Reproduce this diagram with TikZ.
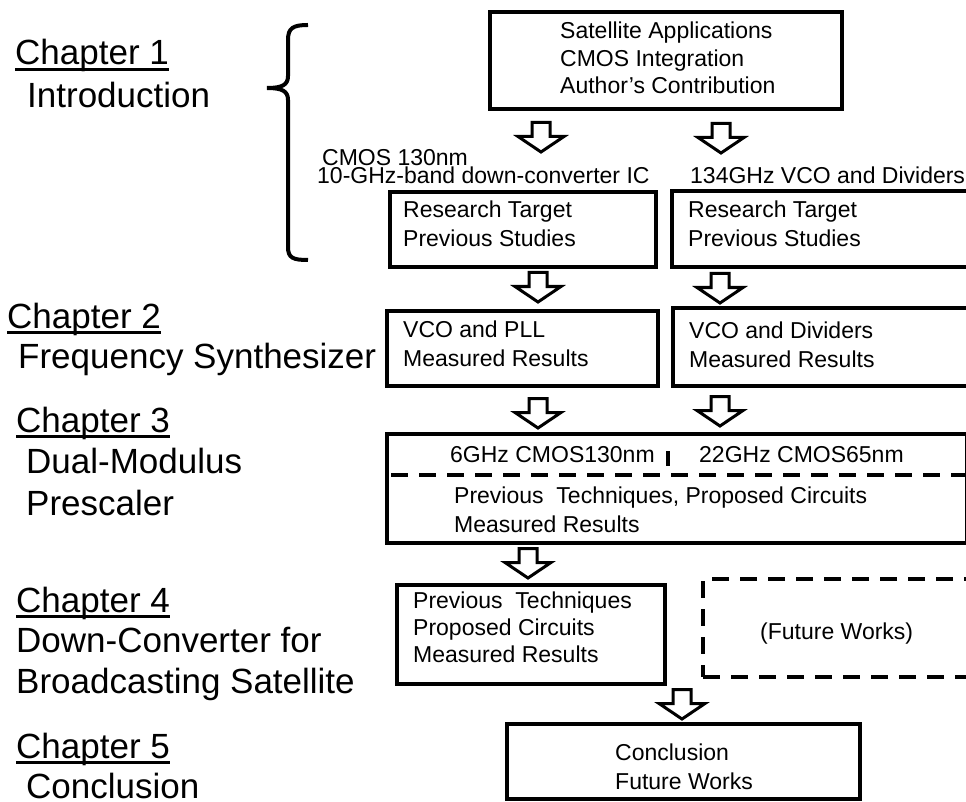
\documentclass[tikz,border=0pt]{standalone}
\usepackage{fontspec}
\setmainfont{Liberation Sans}
\begin{document}
\begin{tikzpicture}[x=1pt, y=-1pt,
  box/.style={draw, line width=4pt, rectangle, outer sep=0pt, inner sep=0pt, anchor=north west},
  dashbox/.style={box, dash pattern=on 17pt off 11pt},
  dashline/.style={line width=4pt, dash pattern=on 17pt off 11pt},
  % multi-line texts are placed by the baseline of their last line
  txt/.style={anchor=base west, inner sep=0pt, align=left, font=\fontsize{23}{28.5}\selectfont},
  chap/.style={anchor=base west, inner sep=0pt, align=left, font=\fontsize{35}{41.5}\selectfont},
  uline/.style={line width=2.6pt},
  barrow/.pic={\draw[line width=3pt, fill=white]
      (-9,0) -- (9,0) -- (9,14) -- (23,14) -- (0,29.5) -- (-23,14) -- (-9,14) -- cycle;}
]
\useasboundingbox (0,0) rectangle (966,802);
\clip (0,0) rectangle (966,802);

% ---- chapter titles on the left ----
\node[chap] (ch1) at (15,65) {Chapter 1};
\node[chap] (ch1d) at (27,108) {Introduction};
\node[chap] (ch2) at (7,328) {Chapter 2};
\node[chap] (ch2d) at (18,368) {Frequency Synthesizer};
\node[chap] (ch3) at (16,432) {Chapter 3};
\node[chap, font=\fontsize{35}{42}\selectfont] (ch3d) at (26,515) {Dual-Modulus\\Prescaler};
\node[chap] (ch4) at (16,612) {Chapter 4};
\node[chap, font=\fontsize{35}{41}\selectfont] (ch4d) at (16,693) {Down-Converter for\\Broadcasting Satellite};
\node[chap] (ch5) at (16,758) {Chapter 5};
\node[chap] (ch5d) at (26,798) {Conclusion};
\foreach \c in {ch1,ch2,ch3,ch4,ch5}
  \draw[uline] ([yshift=-4.5pt]\c.base west) -- ([yshift=-4.5pt]\c.base east);

% ---- brace grouping the introduction part ----
\draw[line width=4pt]
  (308,25) .. controls (293,25) and (288,28) .. (288,40) -- (288,76)
  .. controls (288,85) and (282,88) .. (267,88)
  .. controls (282,88) and (288,91) .. (288,100) -- (288,247)
  .. controls (288,258) and (293,260) .. (308,260);

% ---- boxes ----
\node[box, minimum width=352pt, minimum height=97pt] (intro) at (490,12) {};
\node[box, minimum width=266pt, minimum height=75pt] (rtL) at (390,192) {};
\node[box, minimum width=330pt, minimum height=76pt] (rtR) at (672,191) {};
\node[box, minimum width=271pt, minimum height=75pt] (pll) at (387,311) {};
\node[box, minimum width=330pt, minimum height=78pt] (div) at (673,308) {};
\node[box, minimum width=580pt, minimum height=109pt] (pre) at (387,434) {};
\node[box, minimum width=268pt, minimum height=99pt] (dc) at (397,585) {};
\node[dashbox, minimum width=300pt, minimum height=98pt] (fut) at (703,579) {};
\node[box, minimum width=353pt, minimum height=75pt] (concl) at (507,724) {};

% ---- texts ----
\node[txt, font=\fontsize{23}{27.5}\selectfont] (introt) at (560,94)
  {Satellite Applications\\CMOS Integration\\Author's Contribution};
\node[txt] (lblA) at (322,166) {CMOS 130nm};
\node[txt] (lblB) at (317,184) {10-GHz-band down-converter IC};
\node[txt] (lblC) at (690,184) {134GHz VCO and Dividers};
\node[txt, font=\fontsize{23}{29}\selectfont] (rtLt) at (403,247) {Research Target\\Previous Studies};
\node[txt, font=\fontsize{23}{29}\selectfont] (rtRt) at (688,247) {Research Target\\Previous Studies};
\node[txt] (pllt) at (403,366) {VCO and PLL\\Measured Results};
\node[txt] (divt) at (689,367) {VCO and Dividers\\Measured Results};
\node[txt] (preA) at (450,462) {6GHz CMOS130nm};
\node[txt] (preB) at (699,462) {22GHz CMOS65nm};
\fill (665.5,451) rectangle (669.5,466);
\draw[dashline] (391,475) -- (966,475);
\node[txt, font=\fontsize{23}{29}\selectfont] (preC) at (454,532)
  {Previous~ Techniques, Proposed Circuits\\Measured Results};
\node[txt, font=\fontsize{23}{27}\selectfont] (dct) at (413,662)
  {Previous~ Techniques\\Proposed Circuits\\Measured Results};
\node[txt] (futt) at (760,639) {(Future Works)};
\node[txt, font=\fontsize{23}{29}\selectfont] (conclt) at (615,789) {Conclusion\\Future Works};

% ---- block arrows between the stages ----
\coordinate (a1) at (541,122.5);
\coordinate (a2) at (721,123.5);
\coordinate (a3) at (538,272.5);
\coordinate (a4) at (720,273.5);
\coordinate (a5) at (538,398.5);
\coordinate (a6) at (720,396.5);
\coordinate (a7) at (528,548.5);
\coordinate (a8) at (682,689.5);
\foreach \a in {a1,a2,a3,a4,a5,a6,a7,a8}
  \pic at (\a) {barrow};
\end{tikzpicture}
\end{document}
